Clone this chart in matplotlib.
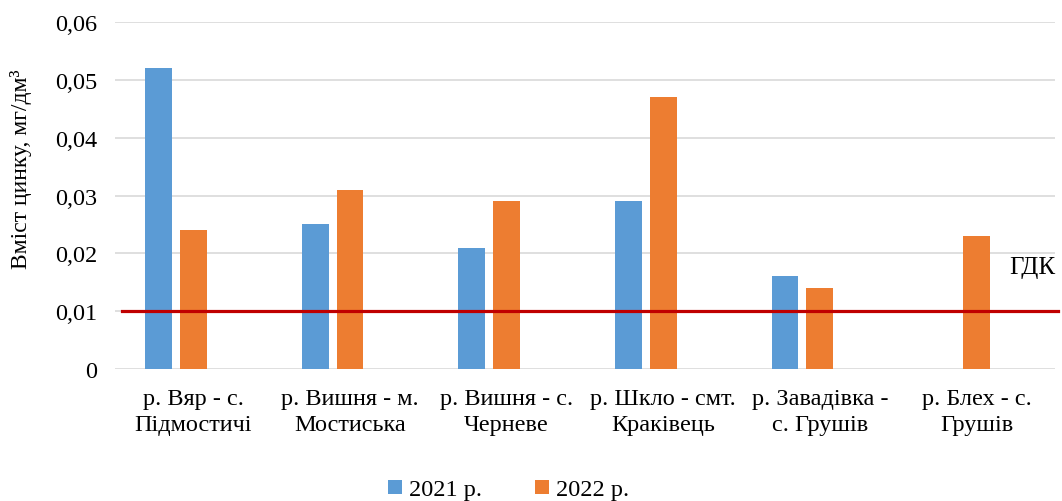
import matplotlib
matplotlib.use('Agg')
import matplotlib.pyplot as plt
import numpy as np

# Zinc content by river site, 2021 vs 2022
sites = ['р. Вяр - с.\nПідмостичі', 'р. Вишня - м.\nМостиська', 'р. Вишня - с.\nЧерневе',
         'р. Шкло - смт.\nКраківець', 'р. Завадівка -\nс. Грушів', 'р. Блех - с.\nГрушів']
y2021 = [0.052, 0.025, 0.021, 0.029, 0.016, 0]
y2022 = [0.024, 0.031, 0.029, 0.047, 0.014, 0.023]
gdk = 0.01
yticks = [0, 0.01, 0.02, 0.03, 0.04, 0.05, 0.06]

plt.rcParams['font.family'] = ['Liberation Serif', 'DejaVu Serif']

fig = plt.figure(figsize=(10.62, 5.02), dpi=100)
ax = fig.add_axes([0.1083, 0.263, 0.885, 0.691])

x = np.arange(len(sites))
w = 0.172
step = 0.223
ax.bar(x - step, y2021, w, color='#5B9BD5', label='2021 р.', zorder=3)
ax.bar(x, y2022, w, color='#ED7D31', label='2022 р.', zorder=3)

ax.plot([-0.457, 5.52], [gdk, gdk], color='#C00000', lw=2.3, zorder=4, clip_on=False)
ax.text(5.21, 0.0176, 'ГДК', fontsize=18, va='center', ha='left', clip_on=False)

ax.set_xlim(-0.5, 5.5)
ax.set_ylim(0, 0.06)
ax.set_yticks(yticks)
ax.set_yticklabels(['0' if v == 0 else ('%.2f' % v).replace('.', ',') for v in yticks], fontsize=17.5)
ax.set_xticks(x)
ax.set_xticklabels(sites, fontsize=17.5, linespacing=1.3)
ax.tick_params(axis='y', length=0, pad=13)
ax.tick_params(axis='x', length=0, pad=14)
ax.grid(axis='y', color='#D9D9D9', lw=1.2, zorder=0)
for s in ax.spines.values():
    s.set_visible(False)
ax.set_ylabel('Вміст цинку, мг/дм³', fontsize=17)
ax.yaxis.set_label_coords(-0.088, 0.58)

fig.legend(loc='center', bbox_to_anchor=(0.479, 0.022), ncol=2, frameon=False, fontsize=17.5,
           handlelength=0.55, handleheight=0.55, handletextpad=0.3, columnspacing=2.2)

fig.savefig('out.png', dpi=100)
